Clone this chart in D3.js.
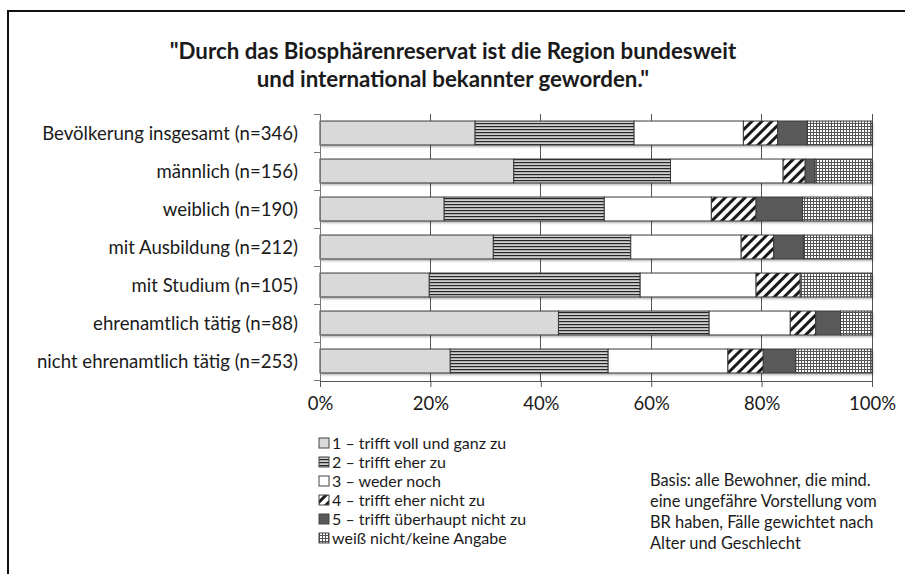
<!DOCTYPE html>
<html><head><meta charset="utf-8">
<script src="https://cdn.jsdelivr.net/npm/d3@7"></script>
<style>body{margin:0;background:#fff}svg{display:block}text{font-family:Lato,"Open Sans",sans-serif;fill:#1a1a1a}</style>
</head><body><svg id="c" width="905" height="574"></svg>
<script>
const categories = ["Bevölkerung insgesamt (n=346)","männlich (n=156)","weiblich (n=190)","mit Ausbildung (n=212)","mit Studium (n=105)","ehrenamtlich tätig (n=88)","nicht ehrenamtlich tätig (n=253)"];
const seriesNames = ["1 – trifft voll und ganz zu","2 – trifft eher zu","3 – weder noch","4 – trifft eher nicht zu","5 – trifft überhaupt nicht zu","weiß nicht/keine Angabe"];
const s1 = [28.1, 35.1, 22.5, 31.4, 19.8, 43.2, 23.6];
const s2 = [28.8, 28.4, 29.0, 24.9, 38.2, 27.3, 28.6];
const s3 = [19.8, 20.4, 19.4, 20.0, 21.0, 14.7, 21.7];
const s4 = [6.2, 4.0, 8.1, 5.9, 8.0, 4.6, 6.4];
const s5 = [5.4, 1.8, 8.4, 5.5, 0.0, 4.5, 5.9];
const s6 = [11.7, 10.3, 12.6, 12.3, 13.0, 5.7, 13.8];
const xTicks = [0,20,40,60,80,100];
const titleLines = ["\"Durch das Biosphärenreservat ist die Region bundesweit","und international bekannter geworden.\""];
const noteLines = ["Basis: alle Bewohner, die mind.","eine ungefähre Vorstellung vom","BR haben, Fälle gewichtet nach","Alter und Geschlecht"];

const svg = d3.select("#c");
const defs = svg.append("defs");
// patterns
const p2 = defs.append("pattern").attr("id","p2").attr("width",4).attr("height",3).attr("patternUnits","userSpaceOnUse");
p2.append("rect").attr("width",4).attr("height",3).attr("fill","#d0d0d0");
p2.append("rect").attr("y",0).attr("width",4).attr("height",1.2).attr("fill","#262626");
const p4 = defs.append("pattern").attr("id","p4").attr("width",7).attr("height",7).attr("patternUnits","userSpaceOnUse").attr("patternTransform","rotate(45)");
p4.append("rect").attr("width",7).attr("height",7).attr("fill","#fff");
p4.append("rect").attr("x",0).attr("width",3).attr("height",7).attr("fill","#1a1a1a");
const p6 = defs.append("pattern").attr("id","p6").attr("width",3).attr("height",3).attr("patternUnits","userSpaceOnUse");
p6.append("rect").attr("width",3).attr("height",3).attr("fill","#fff");
p6.append("rect").attr("width",3).attr("height",1).attr("fill","#555");
p6.append("rect").attr("width",1).attr("height",3).attr("fill","#555");
const f = defs.append("filter").attr("id","sh").attr("x","-5%").attr("y","-20%").attr("width","110%").attr("height","160%");
f.append("feDropShadow").attr("dx",1).attr("dy",2).attr("stdDeviation",1.2).attr("flood-color","#000").attr("flood-opacity",0.3);

const fills = ["#d9d9d9","url(#p2)","#ffffff","url(#p4)","#595959","url(#p6)"];

// frame
svg.append("rect").attr("x",8).attr("y",11).attr("width",920).attr("height",600).attr("fill","none").attr("stroke","#111").attr("stroke-width",2);

// title
svg.append("g").selectAll("text").data(titleLines).join("text")
  .attr("x",453).attr("y",(d,i)=>59+i*28).attr("text-anchor","middle")
  .style("font-size","22.3px").style("font-weight","bold").text(d=>d);

const x = d3.scaleLinear().domain([0,100]).range([320,872]);
const y = d3.scaleBand().domain(categories).range([114,380]).paddingInner(0.37).paddingOuter(0.185);

// gridlines
svg.append("g").selectAll("line").data(xTicks.slice(1)).join("line")
  .attr("x1",d=>x(d)).attr("x2",d=>x(d)).attr("y1",114).attr("y2",381)
  .attr("stroke","#555").attr("stroke-width",1).attr("shape-rendering","crispEdges");

// stacked bars
const rows = categories.map((c,i)=>({cat:c,a:s1[i],b:s2[i],c3:s3[i],d:s4[i],e:s5[i],f:s6[i]}));
const keys = ["a","b","c3","d","e","f"];
const stack = d3.stack().keys(keys)(rows);
const barsG = svg.append("g");
rows.forEach((r,i)=>{
  barsG.append("rect").attr("x",x(0)).attr("y",y(r.cat)).attr("width",x(100)-x(0)).attr("height",y.bandwidth())
    .attr("fill","#fff").attr("filter","url(#sh)");
});
stack.forEach((layer,k)=>{
  barsG.append("g").selectAll("rect").data(layer.filter(d=>d[1]-d[0]>0)).join("rect")
    .attr("x",d=>x(d[0])).attr("y",d=>y(d.data.cat)).attr("width",d=>x(d[1])-x(d[0])).attr("height",y.bandwidth())
    .attr("fill",fills[k]).attr("stroke","#3a3a3a").attr("stroke-width",1);
});

// y axis
const step = y.step();
const yg = svg.append("g");
yg.append("line").attr("x1",320).attr("x2",320).attr("y1",114).attr("y2",381).attr("stroke","#777").attr("shape-rendering","crispEdges");
const bounds = categories.map(c=>y(c)-step*0.185).concat([y(categories[6])+y.bandwidth()+step*0.185]);
yg.selectAll("line.t").data(bounds).join("line").attr("class","t")
  .attr("x1",314).attr("x2",320).attr("y1",d=>d).attr("y2",d=>d).attr("stroke","#777").attr("shape-rendering","crispEdges");
yg.selectAll("text").data(categories).join("text")
  .attr("x",298).attr("y",c=>y(c)+y.bandwidth()/2).attr("dy","0.36em").attr("text-anchor","end")
  .style("font-size","18.6px").text(c=>c);

// x axis
const xg = svg.append("g").attr("transform","translate(0,381)");
const xAxis = d3.axisBottom(x).tickValues(xTicks).tickFormat(d=>d+"%").tickSize(6).tickPadding(10);
xg.call(xAxis);
xg.select(".domain").attr("stroke","#555").attr("d","M320,0.5H872");
xg.selectAll(".tick line").attr("stroke","#555");
xg.selectAll(".tick text").style("font-size","18.5px").style("font-family","Lato,sans-serif").attr("fill","#1a1a1a");

// legend
const lg = svg.append("g").attr("transform","translate(319,443)");
seriesNames.forEach((n,i)=>{
  const g = lg.append("g").attr("transform",`translate(0,${i*19})`);
  g.append("rect").attr("x",0).attr("y",-5).attr("width",10).attr("height",10).attr("fill",fills[i]).attr("stroke","#444").attr("stroke-width",1);
  g.append("text").attr("x",13).attr("y",0).attr("dy","0.36em").style("font-size","16px").text(n);
});

// note
svg.append("g").selectAll("text").data(noteLines).join("text")
  .attr("x",650).attr("y",(d,i)=>480+i*21).attr("dy","0.36em").style("font-size","16.4px").text(d=>d);
</script></body></html>
